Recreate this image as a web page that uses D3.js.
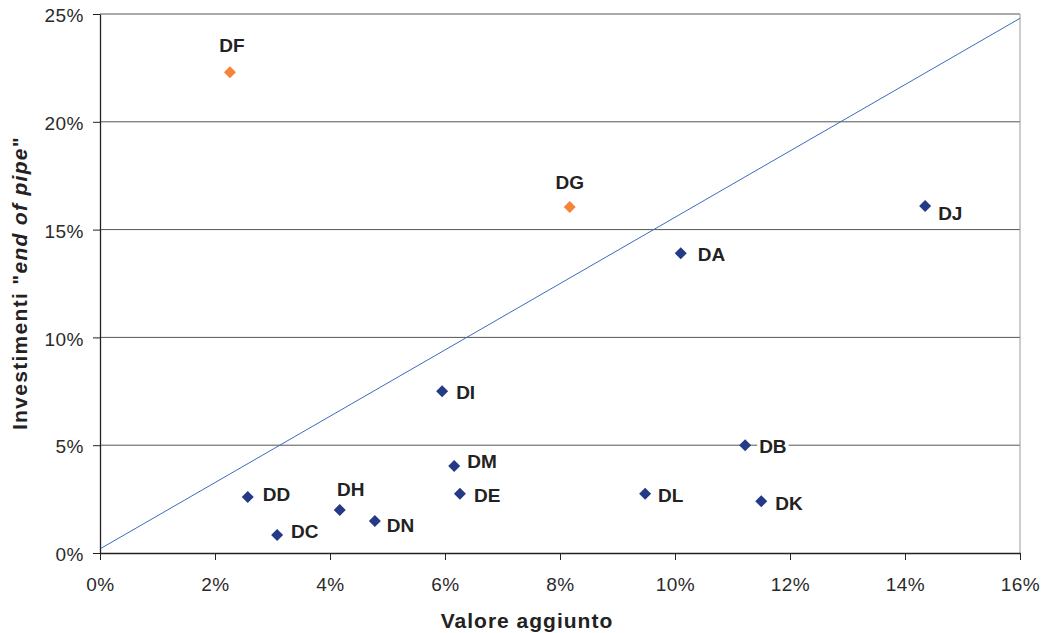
<!DOCTYPE html>
<html>
<head>
<meta charset="utf-8">
<script src="https://cdn.jsdelivr.net/npm/d3@7"></script>
<style>
  body { margin: 0; background: #fff; }
  text { font-family: "Liberation Sans", Arial, sans-serif; }
</style>
</head>
<body>
<div id="app"></div>
<script>
// sectors and their values (share of value added, share of end-of-pipe investment)
const labels = ["DF", "DG", "DJ", "DA", "DI", "DB", "DM", "DE", "DL", "DK", "DD", "DH", "DN", "DC"];
const valoreAggiunto = [0.0226, 0.0817, 0.1435, 0.1010, 0.0595, 0.1122, 0.0616, 0.0626, 0.0948, 0.1150, 0.0257, 0.0417, 0.0478, 0.0308];
const investimenti = [0.2230, 0.1605, 0.1610, 0.1390, 0.0750, 0.0500, 0.0404, 0.0275, 0.0275, 0.0240, 0.0260, 0.0200, 0.0148, 0.0083];
const highlighted = [true, true, false, false, false, false, false, false, false, false, false, false, false, false];
// reference line end points
const lineX = [0, 0.16];
const lineY = [0.0019, 0.248];
const xTicks = [0, 0.02, 0.04, 0.06, 0.08, 0.10, 0.12, 0.14, 0.16];
const yTicks = [0, 0.05, 0.10, 0.15, 0.20, 0.25];

// label placement (offset from marker, px)
const labelOffset = {
  DF: [2, -27, "middle"], DG: [0, -25, "middle"], DH: [11, -21, "middle"],
  DJ: [13, 7, "start"], DA: [17, 1, "start"], DI: [14, 1, "start"], DB: [14, 1, "start"],
  DM: [13, -5, "start"], DE: [14, 1, "start"], DL: [13, 1, "start"], DK: [14, 2, "start"],
  DD: [15, -3, "start"], DN: [12, 4, "start"], DC: [14, -4, "start"]
};

const w = 1045, h = 633;
const plotL = 100, plotR = 1020, plotT = 14, plotB = 553;

const svg = d3.select("#app").append("svg")
  .attr("width", w)
  .attr("height", h);

const xScale = d3.scaleLinear().domain([0, 0.16]).range([plotL, plotR]);
const yScale = d3.scaleLinear().domain([0, 0.25]).range([plotB, plotT]);

// gridlines
svg.append("g")
  .selectAll("line")
  .data(yTicks.filter(d => d > 0))
  .enter().append("line")
  .attr("x1", plotL).attr("x2", plotR)
  .attr("y1", d => yScale(d)).attr("y2", d => yScale(d))
  .attr("stroke", "#555")
  .attr("stroke-width", 1);

// right border
svg.append("line")
  .attr("x1", plotR).attr("x2", plotR)
  .attr("y1", plotT).attr("y2", plotB)
  .attr("stroke", "#9a9a9a");

// reference line
svg.append("path")
  .datum(lineX.map((x, i) => [x, lineY[i]]))
  .attr("d", d3.line().x(d => xScale(d[0])).y(d => yScale(d[1])))
  .attr("fill", "none")
  .attr("stroke", "#3b6cc0")
  .attr("stroke-width", 1);

// axes
const xAxis = d3.axisBottom(xScale).tickValues(xTicks).tickFormat(d3.format(".0%")).tickSize(7).tickSizeOuter(0);
const yAxis = d3.axisLeft(yScale).tickValues(yTicks).tickFormat(d3.format(".0%")).tickSize(7).tickSizeOuter(0);

const gx = svg.append("g")
  .attr("transform", "translate(0," + plotB + ")")
  .call(xAxis);
const gy = svg.append("g")
  .attr("transform", "translate(" + plotL + ",0)")
  .call(yAxis);

[gx, gy].forEach(g => {
  g.select(".domain").attr("stroke", "#222").attr("stroke-width", 1.3);
  g.selectAll(".tick line").attr("stroke", "#222");
  g.selectAll(".tick text")
    .attr("fill", "#2a2a2a")
    .style("font-size", "19px")
    .style("letter-spacing", "0.5px")
    .style("font-family", "'Liberation Sans', Arial, sans-serif");
});
gx.selectAll(".tick text").attr("y", 38).attr("dy", 0);
gy.selectAll(".tick text").attr("x", -16).attr("dy", "0.4em");

// points
const pts = labels.map((d, i) => ({ name: d, x: valoreAggiunto[i], y: investimenti[i], hl: highlighted[i] }));

const labelG = svg.append("g");
pts.forEach(p => {
  const o = labelOffset[p.name];
  const t = labelG.append("text")
    .attr("x", xScale(p.x) + o[0])
    .attr("y", yScale(p.y) + o[1])
    .attr("dy", "0.36em")
    .attr("text-anchor", o[2])
    .attr("font-size", "19px")
    .attr("font-weight", "bold")
    .attr("fill", "#222")
    .text(p.name);
  const bb = t.node().getBBox();
  labelG.insert("rect", "text")
    .attr("x", bb.x - 2).attr("y", bb.y)
    .attr("width", bb.width + 4).attr("height", bb.height)
    .attr("fill", "#fff");
});
labelG.selectAll("text").raise();

svg.append("g")
  .selectAll("path")
  .data(pts)
  .enter().append("path")
  .attr("transform", d => "translate(" + xScale(d.x) + "," + yScale(d.y) + ")")
  .attr("d", "M0,-6L6,0L0,6L-6,0Z")
  .attr("fill", d => d.hl ? "#f5843a" : "#253a86");

// axis titles
svg.append("text")
  .attr("x", (plotL + plotR) / 2 - 33)
  .attr("y", 628)
  .attr("text-anchor", "middle")
  .attr("font-size", "21px")
  .attr("font-weight", "bold")
  .style("letter-spacing", "1px")
  .attr("fill", "#222")
  .text("Valore aggiunto");

const yt = svg.append("text")
  .attr("transform", "translate(27," + 283 + ") rotate(-90)")
  .attr("text-anchor", "middle")
  .attr("font-size", "21px")
  .attr("font-weight", "bold")
  .style("letter-spacing", "1.3px")
  .attr("fill", "#222");
yt.append("tspan").text("Investimenti \"");
yt.append("tspan").attr("font-style", "italic").text("end of pipe");
yt.append("tspan").text("\"");
</script>
</body>
</html>
